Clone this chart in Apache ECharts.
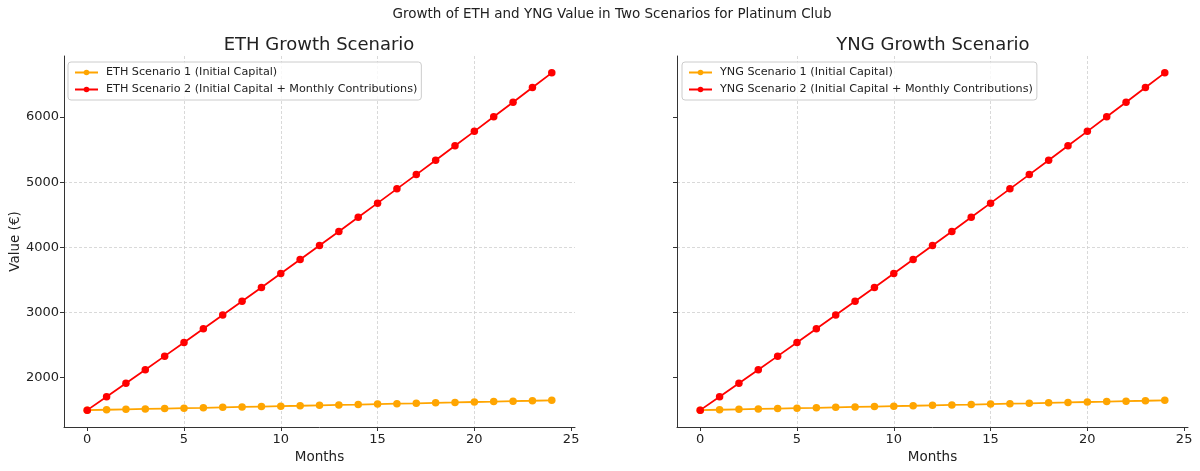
<!DOCTYPE html>
<html>
<head>
<meta charset="utf-8">
<script src="https://cdn.jsdelivr.net/npm/echarts@6/dist/echarts.min.js"></script>
<style>
  html, body { margin: 0; padding: 0; background: #fff; }
  #main { width: 1200px; height: 471px; }
</style>
</head>
<body>
<div id="main"></div>
<script>
// months 0..24
var months = [0,1,2,3,4,5,6,7,8,9,10,11,12,13,14,15,16,17,18,19,20,21,22,23,24];
// scenario 1: initial capital only
var ethScenario1 = [1500,1506,1512,1518,1524,1530,1536,1543,1549,1555,1561,1567,1574,1580,1586,1593,1599,1605,1612,1618,1625,1631,1638,1644,1651];
// scenario 2: initial capital + monthly contributions
var ethScenario2 = [1500,1706,1913,2120,2329,2538,2748,2959,3171,3384,3597,3812,4027,4243,4460,4678,4897,5116,5337,5558,5780,6004,6228,6452,6678];
var yngScenario1 = [1500,1506,1512,1518,1524,1530,1536,1543,1549,1555,1561,1567,1574,1580,1586,1593,1599,1605,1612,1618,1625,1631,1638,1644,1651];
var yngScenario2 = [1500,1706,1913,2120,2329,2538,2748,2959,3171,3384,3597,3812,4027,4243,4460,4678,4897,5116,5337,5558,5780,6004,6228,6452,6678];
var xTicks = [0,5,10,15,20,25];
var yTicks = [2000,3000,4000,5000,6000];

var textColor = '#222';
var fontFam = 'DejaVu Sans';

function pairs(ys) {
    return months.map(function (m, i) { return [m, ys[i]]; });
}

function xAxis(idx) {
    return {
        type: 'value', gridIndex: idx, min: -1.2, max: 25.2,
        name: 'Months', nameLocation: 'middle', nameGap: 21,
        nameTextStyle: { fontSize: 13.5, color: textColor, fontFamily: fontFam },
        axisLine: { onZero: false, lineStyle: { color: '#333', width: 1 } },
        axisTick: { show: true, length: 4, customValues: xTicks, lineStyle: { color: '#333' } },
        axisLabel: { customValues: xTicks, fontSize: 13, color: textColor, fontFamily: fontFam, margin: 6,
                     formatter: function (v) { return String(v); } },
        splitLine: { show: true, showMinLine: false, showMaxLine: false, lineStyle: { type: [3, 2], color: '#cfcfcf', width: 0.8 } }
    };
}

function yAxis(idx, labels) {
    return {
        type: 'value', gridIndex: idx, min: 1241, max: 6937,
        name: labels ? 'Value (€)' : '', nameLocation: 'middle', nameGap: 42,
        nameTextStyle: { fontSize: 13.5, color: textColor, fontFamily: fontFam },
        axisLine: { show: true, onZero: false, lineStyle: { color: '#333', width: 1 } },
        axisTick: { show: true, length: 4, customValues: yTicks, lineStyle: { color: '#333' } },
        axisLabel: { show: labels, customValues: yTicks, fontSize: 13, color: textColor, fontFamily: fontFam, margin: 5,
                     formatter: function (v) { return String(v); } },
        splitLine: { show: true, showMinLine: false, showMaxLine: false, lineStyle: { type: [3, 2], color: '#cfcfcf', width: 0.8 } }
    };
}

function lineSeries(name, idx, ys, color) {
    return {
        name: name, type: 'line', xAxisIndex: idx, yAxisIndex: idx,
        data: pairs(ys), symbol: 'circle', symbolSize: 7.5,
        itemStyle: { color: color },
        lineStyle: { color: color, width: 1.8 },
        emphasis: { disabled: true }
    };
}

function legend(left, names) {
    return {
        left: left, top: 62, orient: 'vertical',
        data: names, itemWidth: 23, itemHeight: 7, itemGap: 6,
        padding: [5, 4, 5, 6],
        borderColor: '#ccc', borderWidth: 1, borderRadius: 3,
        backgroundColor: 'rgba(255,255,255,0.8)',
        textStyle: { fontSize: 11.2, color: textColor, fontFamily: fontFam, padding: [0, 0, 0, 3] }
    };
}

var chart = echarts.init(document.getElementById('main'), null, { renderer: 'canvas' });
chart.setOption({
    animation: false,
    backgroundColor: '#fff',
    title: [
        { text: 'Growth of ETH and YNG Value in Two Scenarios for Platinum Club', left: 607, textAlign: 'center', top: 2,
          textStyle: { fontSize: 13.5, fontWeight: 'normal', color: textColor, fontFamily: fontFam } },
        { text: 'ETH Growth Scenario', left: 314, textAlign: 'center', top: 31,
          textStyle: { fontSize: 18, fontWeight: 'normal', color: textColor, fontFamily: fontFam } },
        { text: 'YNG Growth Scenario', left: 928, textAlign: 'center', top: 31,
          textStyle: { fontSize: 18, fontWeight: 'normal', color: textColor, fontFamily: fontFam } }
    ],
    legend: [
        legend(68, ['ETH Scenario 1 (Initial Capital)', 'ETH Scenario 2 (Initial Capital + Monthly Contributions)']),
        legend(682, ['YNG Scenario 1 (Initial Capital)', 'YNG Scenario 2 (Initial Capital + Monthly Contributions)'])
    ],
    grid: [
        { left: 64, top: 56, width: 511, height: 371 },
        { left: 677, top: 56, width: 511, height: 371 }
    ],
    xAxis: [xAxis(0), xAxis(1)],
    yAxis: [yAxis(0, true), yAxis(1, false)],
    series: [
        lineSeries('ETH Scenario 1 (Initial Capital)', 0, ethScenario1, '#FFA500'),
        lineSeries('ETH Scenario 2 (Initial Capital + Monthly Contributions)', 0, ethScenario2, '#FF0000'),
        lineSeries('YNG Scenario 1 (Initial Capital)', 1, yngScenario1, '#FFA500'),
        lineSeries('YNG Scenario 2 (Initial Capital + Monthly Contributions)', 1, yngScenario2, '#FF0000')
    ]
});
</script>
</body>
</html>
